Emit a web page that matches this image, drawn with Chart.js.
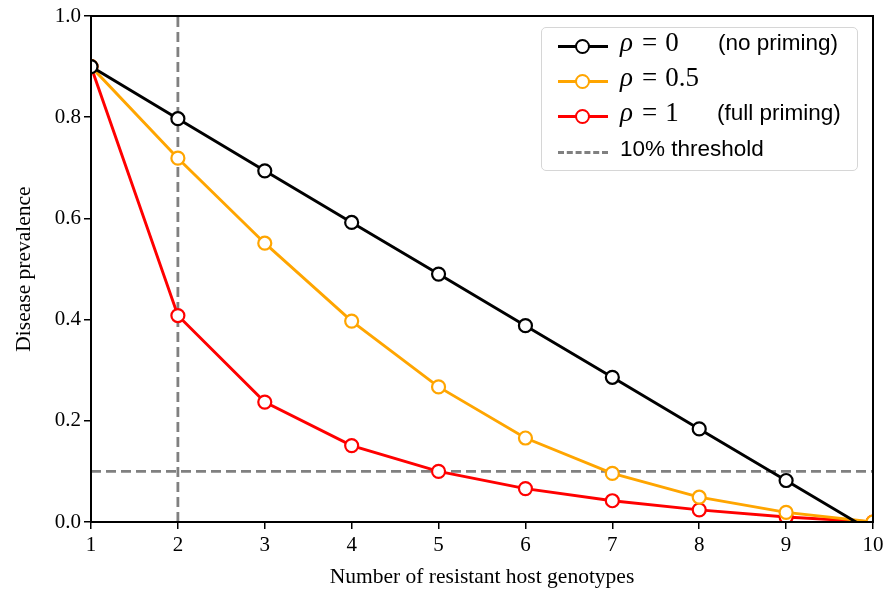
<!DOCTYPE html>
<html lang="en">
<head>
<meta charset="UTF-8">
<title>Disease prevalence vs resistant host genotypes</title>
<script src="https://cdn.jsdelivr.net/npm/chart.js"></script>
<style>
    body { margin: 0; background: #fff; }
    .wrap { position: relative; width: 883px; height: 594px; }
    canvas { display: block; }
    .legend {
        position: absolute; left: 541px; top: 27px; width: 317px; height: 144px;
        border: 1.5px solid #d6d6d6; border-radius: 5px; background: rgba(255,255,255,0.85);
        box-sizing: border-box; font-family: "Liberation Sans", Arial, sans-serif; font-size: 22.5px;
    }
    .row { position: absolute; left: 0; height: 30px; width: 100%; }
    .sample { position: absolute; left: 16px; top: 14px; width: 50px; height: 0; border-top: 3px solid; }
    .sample i { position: absolute; left: 17px; top: -9px; width: 11px; height: 11px; border: 2.2px solid; border-radius: 50%; background: #fff; }
    .sample.dash { border-top: 3px dashed #808080; }
    .math { position: absolute; left: 78px; top: -4px; font-family: "Liberation Serif", "DejaVu Serif", serif; font-size: 27px; white-space: nowrap; }
    .math em { font-style: italic; }
    .math b { font-weight: normal; margin: 0 8px 0 9px; }
    .note { position: absolute; top: -1px; white-space: nowrap; }
</style>
</head>
<body>
<div class="wrap">
    <canvas id="chart" width="883" height="594"></canvas>
    <div class="legend">
        <div class="row" style="top:3px"><div class="sample" style="border-color:#000"><i style="border-color:#000"></i></div><span class="math"><em>ρ</em><b>=</b>0</span><span class="note" style="left:176px">(no priming)</span></div>
        <div class="row" style="top:38px"><div class="sample" style="border-color:#ffa500"><i style="border-color:#ffa500"></i></div><span class="math"><em>ρ</em><b>=</b>0.5</span></div>
        <div class="row" style="top:73px"><div class="sample" style="border-color:#ff0000"><i style="border-color:#ff0000"></i></div><span class="math"><em>ρ</em><b>=</b>1</span><span class="note" style="left:175px">(full priming)</span></div>
        <div class="row" style="top:109px"><div class="sample dash"></div><span class="note" style="left:78px">10% threshold</span></div>
    </div>
</div>
<script>
    const genotypes = [1, 2, 3, 4, 5, 6, 7, 8, 9, 10];
    const noPriming = [0.900, 0.797, 0.694, 0.592, 0.490, 0.388, 0.286, 0.184, 0.082, -0.020];
    const halfPriming = [0.900, 0.719, 0.551, 0.397, 0.267, 0.166, 0.096, 0.049, 0.019, 0.000];
    const fullPriming = [0.900, 0.408, 0.237, 0.151, 0.100, 0.066, 0.042, 0.024, 0.010, 0.000];
    const threshold = 0.1;
    const minGenotypes = 2;
    const yTicks = [0, 0.2, 0.4, 0.6, 0.8, 1.0];

    function pts(values) {
        return genotypes.map((g, i) => ({ x: g, y: values[i] }));
    }

    function series(label, values, color) {
        return {
            label: label, data: pts(values), borderColor: color, borderWidth: 2.9,
            pointRadius: 6.5, pointBorderWidth: 2.2, pointBackgroundColor: '#fff', pointBorderColor: color,
            clip: 0, order: 1, tension: 0
        };
    }

    // box around the plot area (all four spines)
    const frame = {
        id: 'frame',
        afterDatasetsDraw(chart) {
            const a = chart.chartArea, c = chart.ctx;
            c.save();
            c.strokeStyle = '#000';
            c.lineWidth = 2;
            c.strokeRect(a.left, a.top, a.right - a.left, a.bottom - a.top);
            c.restore();
        }
    };

    const serif = '"Liberation Serif", "DejaVu Serif", serif';

    new Chart(document.getElementById('chart'), {
        type: 'line',
        data: {
            datasets: [
                series('ρ = 0 (no priming)', noPriming, '#000000'),
                series('ρ = 0.5', halfPriming, '#ffa500'),
                series('ρ = 1 (full priming)', fullPriming, '#ff0000'),
                {
                    label: '10% threshold', data: [{ x: 1, y: threshold }, { x: 10, y: threshold }],
                    borderColor: '#808080', borderWidth: 2.8, borderDash: [10, 5], pointRadius: 0, order: 2
                },
                {
                    label: 'min genotypes', data: [{ x: minGenotypes, y: 0 }, { x: minGenotypes, y: 1 }],
                    borderColor: '#808080', borderWidth: 2.8, borderDash: [10, 5], pointRadius: 0, order: 2
                }
            ]
        },
        options: {
            responsive: false,
            animation: false,
            layout: { padding: { top: 16, right: 0, left: 0, bottom: 0 } },
            plugins: { legend: { display: false }, tooltip: { enabled: false } },
            scales: {
                x: {
                    type: 'linear', min: 1, max: 10,
                    afterBuildTicks(s) { s.ticks = genotypes.map(v => ({ value: v })); },
                    afterFit(s) { s.height = 72; s.paddingLeft = 0; s.paddingRight = 10; },
                    ticks: { color: '#000', font: { family: serif, size: 21 }, padding: 4, callback: v => v },
                    grid: { drawOnChartArea: false, drawTicks: true, tickLength: 7, color: '#000', lineWidth: 1.5 },
                    border: { display: false },
                    title: { display: true, text: 'Number of resistant host genotypes', color: '#000', font: { family: serif, size: 21.5 }, padding: { top: 5 } }
                },
                y: {
                    min: 0, max: 1,
                    afterBuildTicks(s) { s.ticks = yTicks.map(v => ({ value: v })); },
                    afterFit(s) { s.width = 91; },
                    ticks: { color: '#000', font: { family: serif, size: 21 }, padding: 3, callback: v => v.toFixed(1) },
                    grid: { drawOnChartArea: false, drawTicks: true, tickLength: 7, color: '#000', lineWidth: 1.5 },
                    border: { display: false },
                    title: { display: true, text: 'Disease prevalence', color: '#000', font: { family: serif, size: 21.5 }, padding: { bottom: 4, top: 11 } }
                }
            }
        },
        plugins: [frame]
    });
</script>
</body>
</html>
